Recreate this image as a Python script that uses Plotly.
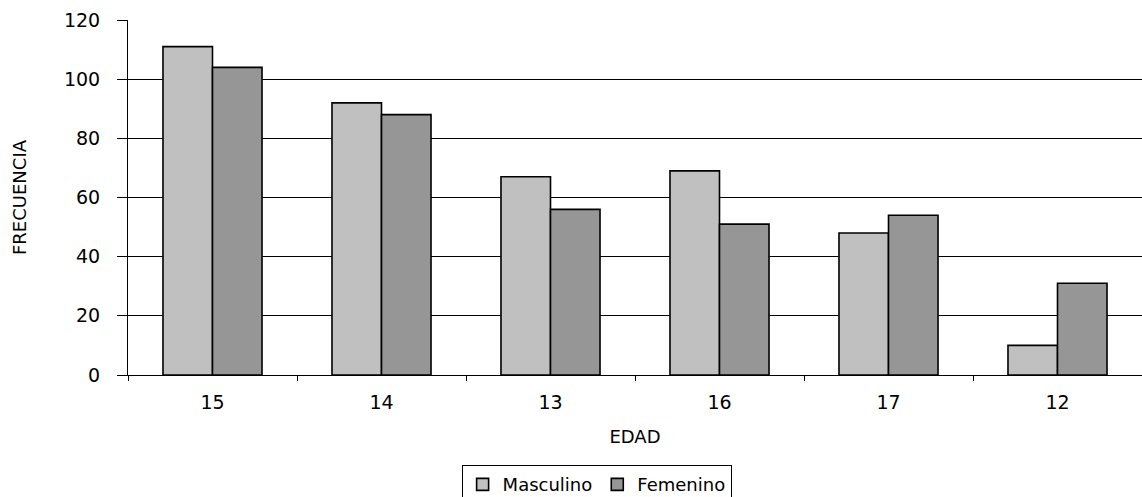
import plotly.graph_objects as go

edades = ["15", "14", "13", "16", "17", "12"]
masculino = [111, 92, 67, 69, 48, 10]
femenino = [104, 88, 56, 51, 54, 31]
y_ticks = [0, 20, 40, 60, 80, 100, 120]

FONT = "DejaVu Sans, Liberation Sans, Arial, sans-serif"

fig = go.Figure()
fig.add_trace(go.Bar(
    x=edades, y=masculino, name="Masculino",
    marker=dict(color="#C0C0C0", line=dict(color="black", width=1.6)),
))
fig.add_trace(go.Bar(
    x=edades, y=femenino, name="Femenino",
    marker=dict(color="#969696", line=dict(color="black", width=1.6)),
))

fig.update_layout(
    width=1142, height=497,
    margin=dict(l=128, r=0, t=20, b=122),
    paper_bgcolor="white", plot_bgcolor="white",
    barmode="group", bargap=0.414, bargroupgap=0,
    font=dict(family=FONT, size=19, color="black"),
    showlegend=True,
    legend=dict(
        orientation="h", x=0.329, xanchor="left",
        yref="container", y=0.064, yanchor="top",
        bordercolor="black", borderwidth=1, bgcolor="white",
        font=dict(family=FONT, size=18, color="black"),
        itemwidth=30, traceorder="normal",
    ),
    xaxis=dict(
        type="category", tickson="boundaries", ticks="outside", ticklen=5,
        tickcolor="black", tickwidth=1, showline=True, linecolor="black",
        linewidth=1, showgrid=False, ticklabelstandoff=10, automargin=False,
        title=dict(text="EDAD", font=dict(family=FONT, size=18), standoff=18),
        tickfont=dict(family=FONT, size=19),
    ),
    yaxis=dict(
        range=[0, 120], tickvals=y_ticks, ticks="outside", ticklen=10,
        tickcolor="black", tickwidth=1, showline=True, linecolor="black",
        linewidth=1, showgrid=True, gridcolor="black", gridwidth=1,
        zeroline=False, ticklabelstandoff=13, automargin=False,
        title=dict(text="FRECUENCIA", font=dict(family=FONT, size=18), standoff=32),
        tickfont=dict(family=FONT, size=19),
    ),
)

fig.write_html(
    "out.html",
    config={"displayModeBar": False},
    post_script="document.body.style.margin='0';document.body.style.overflow='hidden';",
)
